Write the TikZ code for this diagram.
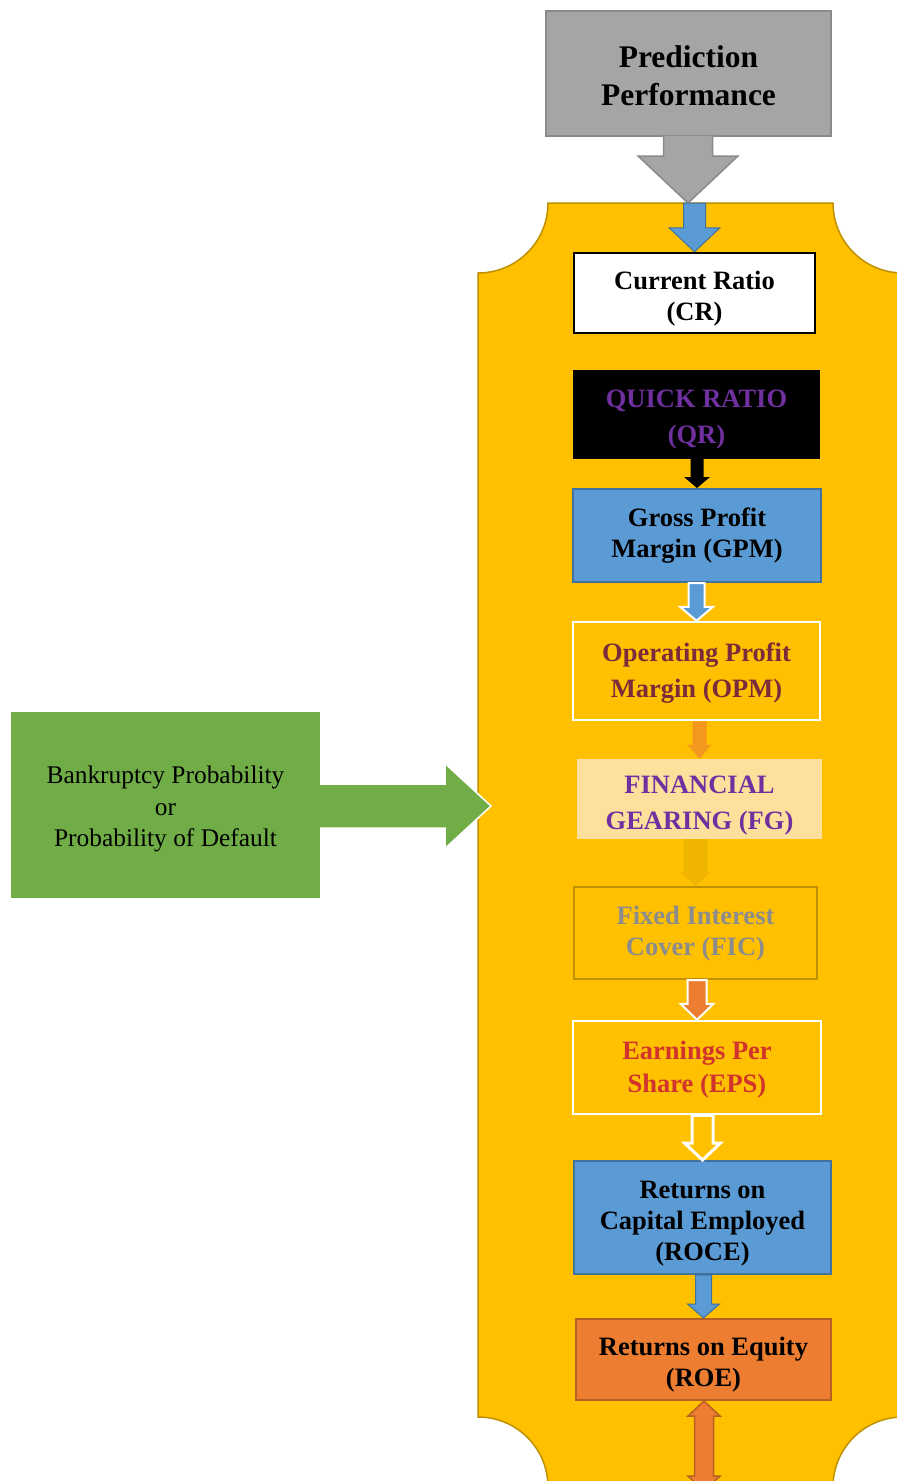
\documentclass[tikz,border=0pt]{standalone}
\usepackage{fontspec}
\setmainfont{Liberation Serif}
\usetikzlibrary{calc}
\definecolor{gold}{HTML}{FFC000}
\definecolor{goldline}{HTML}{BF9000}
\definecolor{blueF}{HTML}{5B9BD5}
\definecolor{blueL}{HTML}{41719C}
\definecolor{orangeF}{HTML}{ED7D31}
\definecolor{orangeL}{HTML}{B85F23}
\definecolor{greenF}{HTML}{70AD47}
\definecolor{grayF}{HTML}{A5A5A5}
\definecolor{grayL}{HTML}{8A8A8A}
\definecolor{purpleT}{HTML}{7030A0}
\definecolor{maroonT}{HTML}{7B2B3A}
\definecolor{redT}{HTML}{D0342C}
\definecolor{grayT}{HTML}{8C8C8C}
\definecolor{peach}{HTML}{FCE09C}
% block arrow: style, start, tip, stem half width, head half width, head length
\newcommand{\blockarr}[6]{%
  \path[#1] let \p1=(#2), \p2=(#3) in
    (\x2-#4pt,\y1) -- (\x2-#4pt,\y2+#6pt) -- (\x2-#5pt,\y2+#6pt) -- (\x2,\y2)
    -- (\x2+#5pt,\y2+#6pt) -- (\x2+#4pt,\y2+#6pt) -- (\x2+#4pt,\y1) -- cycle;}
\begin{document}
\begin{tikzpicture}[x=1pt,y=-1pt,
  boxtext/.style={font=\bfseries\fontsize{26.5}{31}\selectfont, align=center, inner sep=0pt},
  rbox/.style={rectangle, inner sep=0pt}]
\clip (0,0) rectangle (897,1481);
\fill[white] (0,0) rectangle (897,1481);
% plaque
\path[fill=gold, draw=goldline, line width=1.5pt]
  (548,203) -- (833,203) .. controls (833,241.7) and (864.3,273) .. (903,273)
  -- (903,1417) .. controls (864.3,1417) and (833,1448.3) .. (833,1487)
  -- (548,1487) .. controls (548,1448.3) and (516.7,1417) .. (478,1417)
  -- (478,273) .. controls (516.7,273) and (548,241.7) .. (548,203) -- cycle;
\coordinate (ptop) at (688,203);
% top callout
\node[rbox, minimum width=285pt, minimum height=125pt, fill=grayF, draw=grayL, line width=1.5pt]
  (pp) at (688.5,73.5) {};
\node[boxtext, font=\bfseries\fontsize{31.5}{38}\selectfont] (ppt) at ($(pp.center)+(0,2.5)$) {Prediction\\Performance};
\blockarr{fill=grayF}{$(pp.south)+(0,-1)$}{ptop}{24.5}{50}{47}
\path[draw=grayL, line width=1.5pt] let \p1=(pp.south), \p2=(ptop) in
  (\x2-24.5pt,\y1) -- (\x2-24.5pt,\y2+47pt) -- (\x2-50pt,\y2+47pt) -- (\x2,\y2)
  -- (\x2+50pt,\y2+47pt) -- (\x2+24.5pt,\y2+47pt) -- (\x2+24.5pt,\y1);
% boxes
\node[rbox, minimum width=241pt, minimum height=80pt, fill=white, draw=black, line width=2.5pt]
  (cr) at (694.5,293) {};
\node[boxtext] (crt) at ($(cr.center)+(0,6)$) {Current Ratio\\(CR)};
\node[rbox, minimum width=247pt, minimum height=89pt, fill=black] (qr) at (696.5,414.5) {};
\node[boxtext, text=purpleT, font=\bfseries\fontsize{26.5}{36}\selectfont]
  (qrt) at ($(qr.center)+(0,5)$) {QUICK RATIO\\(QR)};
\node[rbox, minimum width=248pt, minimum height=93pt, fill=blueF, draw=blueL, line width=2pt]
  (gpm) at (697,535.5) {};
\node[boxtext] (gpmt) at (gpm.center) {Gross Profit\\Margin (GPM)};
\node[rbox, minimum width=247pt, minimum height=98pt, fill=gold, draw=white, line width=2.5pt]
  (opm) at (696.5,671) {};
\node[boxtext, text=maroonT, font=\bfseries\fontsize{26.5}{36}\selectfont]
  (opmt) at ($(opm.center)+(0,2.5)$) {Operating Profit\\Margin (OPM)};
\node[rbox, minimum width=245pt, minimum height=80pt, fill=peach] (fg) at (699.5,799) {};
\node[boxtext, text=purpleT, font=\bfseries\fontsize{26.5}{36}\selectfont]
  (fgt) at ($(fg.center)+(0,7)$) {FINANCIAL\\GEARING (FG)};
\node[rbox, minimum width=243pt, minimum height=92pt, fill=gold, draw=goldline, line width=2pt]
  (fic) at (695.5,933) {};
\node[boxtext, text=grayT] (fict) at ($(fic.center)+(0,1)$) {Fixed Interest\\Cover (FIC)};
\node[rbox, minimum width=248pt, minimum height=93pt, fill=gold, draw=white, line width=2.5pt]
  (eps) at (697,1067.5) {};
\node[boxtext, text=redT, font=\bfseries\fontsize{26.5}{33}\selectfont]
  (epst) at ($(eps.center)+(0,2)$) {Earnings Per\\Share (EPS)};
\node[rbox, minimum width=257pt, minimum height=113pt, fill=blueF, draw=blueL, line width=2pt]
  (roce) at (702.5,1217.5) {};
\node[boxtext] (rocet) at ($(roce.center)+(0,6)$) {Returns on\\Capital Employed\\(ROCE)};
\node[rbox, minimum width=255pt, minimum height=81pt, fill=orangeF, draw=orangeL, line width=2pt]
  (roe) at (703.5,1359.5) {};
\node[boxtext] (roet) at ($(roe.center)+(0,5)$) {Returns on Equity\\(ROE)};
% arrows between boxes
\blockarr{fill=blueF, draw=blueL, line width=1pt}{ptop}{cr.north}{11}{25.5}{24}
\blockarr{fill=black}{qr.south}{gpm.north}{6.5}{13}{11}
\blockarr{fill=blueF, draw=white, line width=2pt}{gpm.south}{opm.north}{8}{16.5}{14}
\blockarr{fill=orangeF, opacity=0.6}{opm.south}{fg.north}{7}{12}{14}
\blockarr{fill=goldline, opacity=0.22}{fg.south}{fic.north}{12}{15}{14}
\blockarr{fill=orangeF, draw=white, line width=2pt}{fic.south}{eps.north}{9.5}{16.5}{16}
\blockarr{fill=gold, draw=white, line width=3pt}{eps.south}{roce.north}{10.5}{18}{17}
\blockarr{fill=blueF, draw=blueL, line width=1pt}{roce.south}{roe.north}{8}{16}{14}
% bottom double arrow
\coordinate (dbot) at (704,1491);
\path[fill=orangeF, draw=orangeL, line width=1.5pt] let \p1=(roe.south), \p2=(dbot) in
  (\x2,\y1) -- (\x2+16pt,\y1-15pt) -- (\x2+9.5pt,\y1-15pt) -- (\x2+9.5pt,\y2+15pt)
  -- (\x2+16pt,\y2+15pt) -- (\x2,\y2) -- (\x2-16pt,\y2+15pt) -- (\x2-9.5pt,\y2+15pt)
  -- (\x2-9.5pt,\y1-15pt) -- (\x2-16pt,\y1-15pt) -- cycle;
% green input
\coordinate (gtip) at (491,806);
\coordinate (gbase) at (300,806);
\path[fill=greenF, draw=white, line width=1.5pt] let \p1=(gbase), \p2=(gtip) in
  (\x1,\y2+22pt) -- (\x2-46pt,\y2+22pt) -- (\x2-46pt,\y2+42.5pt) -- (\x2,\y2)
  -- (\x2-46pt,\y2-42.5pt) -- (\x2-46pt,\y2-22pt) -- (\x1,\y2-22pt) -- cycle;
\node[rbox, minimum width=309pt, minimum height=186pt, fill=greenF] (bp) at (165.5,805) {};
\node[align=center, inner sep=0pt, font=\fontsize{25.4}{31.5}\selectfont]
  (bpt) at ($(bp.center)+(0,4)$) {Bankruptcy Probability\\or\\Probability of Default};
\end{tikzpicture}
\end{document}
